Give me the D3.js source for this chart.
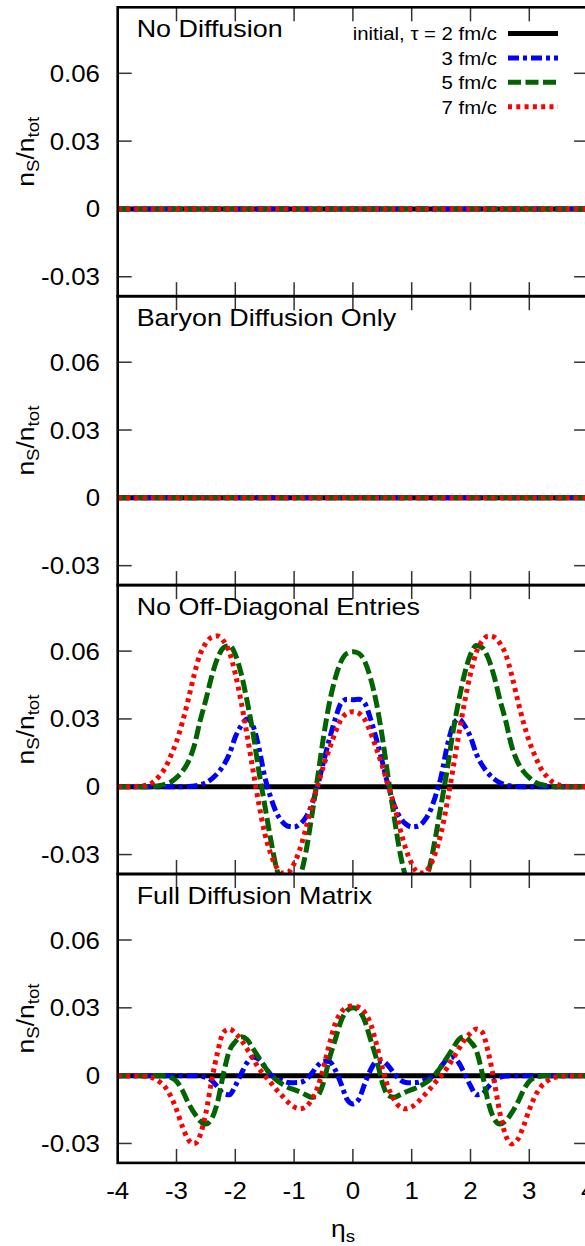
<!DOCTYPE html>
<html><head><meta charset="utf-8">
<script src="https://cdn.jsdelivr.net/npm/d3@7"></script>
<style>body{margin:0;background:#fff;overflow:hidden} svg{display:block}</style>
</head><body><svg id="c" width="585" height="1246"></svg>
<script>
// ---------- data ----------
const eta = [-4.0,-3.9,-3.8,-3.7,-3.6,-3.5,-3.4,-3.3,-3.2,-3.1,-3.0,-2.9,-2.8,-2.7,-2.6,-2.5,-2.4,-2.3,-2.2,-2.1,-2.0,-1.9,-1.8,-1.7,-1.6,-1.5,-1.4,-1.3,-1.2,-1.1,-1.0,-0.9,-0.8,-0.7,-0.6,-0.5,-0.4,-0.3,-0.2,-0.1,0.0,0.1,0.2,0.3,0.4,0.5,0.6,0.7,0.8,0.9,1.0,1.1,1.2,1.3,1.4,1.5,1.6,1.7,1.8,1.9,2.0,2.1,2.2,2.3,2.4,2.5,2.6,2.7,2.8,2.9,3.0,3.1,3.2,3.3,3.4,3.5,3.6,3.7,3.8,3.9,4.0];

const flat = [0,0,0,0,0,0,0,0,0,0,0,0,0,0,0,0,0,0,0,0,0,0,0,0,0,0,0,0,0,0,0,0,0,0,0,0,0,0,0,0,0,0,0,0,0,0,0,0,0,0,0,0,0,0,0,0,0,0,0,0,0,0,0,0,0,0,0,0,0,0,0,0,0,0,0,0,0,0,0,0,0];

// No Off-Diagonal Entries
const noOff_tau3 = [0,0,0,0,0,0,0,0,0,0,0,0,0.0001,0.0003,0.0008,0.0018,0.0035,0.0060,0.0095,0.0145,0.0220,0.0270,0.0300,0.0270,0.0175,0.0045,-0.0045,-0.0115,-0.0155,-0.0175,-0.0178,-0.0165,-0.0135,-0.0080,0.0005,0.0110,0.0210,0.0300,0.0370,0.0387,0.0385,0.0387,0.0370,0.0300,0.0210,0.0110,0.0005,-0.0080,-0.0135,-0.0165,-0.0178,-0.0175,-0.0155,-0.0115,-0.0045,0.0045,0.0175,0.0270,0.0300,0.0270,0.0220,0.0145,0.0095,0.0060,0.0035,0.0018,0.0008,0.0003,0.0001,0,0,0,0,0,0,0,0,0,0,0,0];
const noOff_tau5 = [0,0,0,0,0,0,0.0002,0.0004,0.0010,0.0020,0.0040,0.0068,0.0110,0.0180,0.0290,0.0385,0.0490,0.0570,0.0615,0.0625,0.0585,0.0500,0.0380,0.0240,0.0070,-0.0080,-0.0230,-0.0360,-0.0430,-0.0460,-0.0455,-0.0400,-0.0290,-0.0130,0.0040,0.0220,0.0370,0.0480,0.0555,0.0590,0.0597,0.0590,0.0555,0.0480,0.0370,0.0220,0.0040,-0.0130,-0.0290,-0.0400,-0.0455,-0.0460,-0.0430,-0.0360,-0.0230,-0.0080,0.0070,0.0240,0.0380,0.0500,0.0585,0.0625,0.0615,0.0570,0.0490,0.0385,0.0290,0.0180,0.0110,0.0068,0.0040,0.0020,0.0010,0.0004,0.0002,0,0,0,0,0,0];
const noOff_tau7 = [0,0,0,0.0001,0.0003,0.0008,0.0020,0.0045,0.0080,0.0135,0.0200,0.0285,0.0385,0.0495,0.0585,0.0635,0.0662,0.0667,0.0645,0.0595,0.0500,0.0375,0.0230,0.0075,-0.0075,-0.0205,-0.0295,-0.0355,-0.0382,-0.0378,-0.0340,-0.0275,-0.0185,-0.0080,0.0005,0.0092,0.0168,0.0240,0.0298,0.0325,0.0332,0.0325,0.0298,0.0240,0.0168,0.0092,0.0005,-0.0080,-0.0185,-0.0275,-0.0340,-0.0378,-0.0382,-0.0355,-0.0295,-0.0205,-0.0075,0.0075,0.0230,0.0375,0.0500,0.0595,0.0645,0.0667,0.0662,0.0635,0.0585,0.0495,0.0385,0.0285,0.0200,0.0135,0.0080,0.0045,0.0020,0.0008,0.0003,0.0001,0,0,0];

// Full Diffusion Matrix
const full_tau3 = [0,0,0,0,0,0,0,0,0,0,0,0,0,0,-0.0002,-0.0008,-0.0022,-0.0050,-0.0080,-0.0085,-0.0045,0.0008,0.0057,0.0082,0.0072,0.0040,0.0005,-0.0012,-0.0022,-0.0030,-0.0031,-0.0030,-0.0018,0.0010,0.0044,0.0064,0.0062,0.0025,-0.0037,-0.0105,-0.0125,-0.0105,-0.0037,0.0025,0.0062,0.0064,0.0044,0.0010,-0.0018,-0.0030,-0.0031,-0.0030,-0.0022,-0.0012,0.0005,0.0040,0.0072,0.0082,0.0057,0.0008,-0.0045,-0.0085,-0.0080,-0.0050,-0.0022,-0.0008,-0.0002,0,0,0,0,0,0,0,0,0,0,0,0,0,0];
const full_tau5 = [0,0,0,0,0,0,0,0,-0.0002,-0.0008,-0.0025,-0.0065,-0.0120,-0.0165,-0.0200,-0.0214,-0.0190,-0.0115,0.0010,0.0110,0.0150,0.0172,0.0160,0.0120,0.0080,0.0040,0.0005,-0.0020,-0.0038,-0.0052,-0.0062,-0.0072,-0.0085,-0.0096,-0.0088,-0.0030,0.0075,0.0160,0.0243,0.0288,0.0300,0.0288,0.0243,0.0160,0.0075,-0.0030,-0.0088,-0.0096,-0.0085,-0.0072,-0.0062,-0.0052,-0.0038,-0.0020,0.0005,0.0040,0.0080,0.0120,0.0160,0.0172,0.0150,0.0110,0.0010,-0.0115,-0.0190,-0.0214,-0.0200,-0.0165,-0.0120,-0.0065,-0.0025,-0.0008,-0.0002,0,0,0,0,0,0,0,0];
const full_tau7 = [0,0,0,0,-0.0001,-0.0004,-0.0010,-0.0025,-0.0048,-0.0090,-0.0150,-0.0225,-0.0283,-0.0302,-0.0265,-0.0165,-0.0020,0.0105,0.0192,0.0206,0.0188,0.0158,0.0118,0.0075,0.0033,0.0000,-0.0030,-0.0062,-0.0090,-0.0118,-0.0138,-0.0147,-0.0138,-0.0105,-0.0052,0.0035,0.0140,0.0230,0.0280,0.0302,0.0308,0.0302,0.0280,0.0230,0.0140,0.0035,-0.0052,-0.0105,-0.0138,-0.0147,-0.0138,-0.0118,-0.0090,-0.0062,-0.0030,0.0000,0.0033,0.0075,0.0118,0.0158,0.0188,0.0206,0.0192,0.0105,-0.0020,-0.0165,-0.0265,-0.0302,-0.0283,-0.0225,-0.0150,-0.0090,-0.0048,-0.0025,-0.0010,-0.0004,-0.0001,0,0,0,0];

const panelTitles = ["No Diffusion", "Baryon Diffusion Only", "No Off-Diagonal Entries", "Full Diffusion Matrix"];
const seriesLabels = ["initial, \u03C4 = 2 fm/c", "3 fm/c", "5 fm/c", "7 fm/c"];
const panelSeries = [
  [flat, flat, flat, flat],
  [flat, flat, flat, flat],
  [flat, noOff_tau3, noOff_tau5, noOff_tau7],
  [flat, full_tau3, full_tau5, full_tau7]
];
const xTicks = [-4, -3, -2, -1, 0, 1, 2, 3, 4];
const xTickLabels = ["-4", "-3", "-2", "-1", "0", "1", "2", "3", "4"];
const yTicks = [-0.03, 0, 0.03, 0.06];
const yTickLabels = ["-0.03", "0", "0.03", "0.06"];

// ---------- styles / layout ----------
const styles = [
  {color: "#000000", dash: null, width: 5},
  {color: "#0000ff", dash: "11,4,4,4", width: 5},
  {color: "#006400", dash: "13,4.5", width: 5},
  {color: "#ff0000", dash: "4,4.3", width: 5}
];
const L = 117.7, R = 588.1, TOP0 = 7.3, PH = 288.9;
const FONT = "'Liberation Sans', Arial, Helvetica, sans-serif";
const SX = 1.1;

const svg = d3.select("#c");
const x = d3.scaleLinear().domain([-4, 4]).range([L, R]);

function txt(parent, px, py, str, size, anchor, sx) {
  return parent.append("text")
    .attr("transform", `translate(${px},${py}) scale(${sx || SX},1)`)
    .attr("text-anchor", anchor || "start")
    .attr("font-family", FONT)
    .attr("font-size", size)
    .attr("fill", "#000")
    .text(str);
}

const defs = svg.append("defs");

panelSeries.forEach((series, pi) => {
  const top = TOP0 + pi * PH, bot = top + PH;
  const y = d3.scaleLinear().domain([-0.0386, 0.0892]).range([bot, top]);
  const g = svg.append("g");

  defs.append("clipPath").attr("id", "clip" + pi)
    .append("rect").attr("x", L).attr("y", top).attr("width", R - L).attr("height", PH);

  // ticks (inward, all four sides)
  const tg = g.append("g").attr("stroke", "#333").attr("stroke-width", 1.5);
  xTicks.forEach(t => {
    tg.append("line").attr("x1", x(t)).attr("x2", x(t)).attr("y1", bot).attr("y2", bot - 14);
    tg.append("line").attr("x1", x(t)).attr("x2", x(t)).attr("y1", top).attr("y2", top + 14);
  });
  yTicks.forEach(t => {
    tg.append("line").attr("x1", L).attr("x2", L + 14).attr("y1", y(t)).attr("y2", y(t));
    tg.append("line").attr("x1", R).attr("x2", R - 14).attr("y1", y(t)).attr("y2", y(t));
  });

  // curves
  const line = d3.line().x((d, i) => x(eta[i])).y(d => y(d)).curve(d3.curveMonotoneX);
  const cg = g.append("g").attr("clip-path", `url(#clip${pi})`);
  series.forEach((vals, si) => {
    const st = styles[si];
    cg.append("path").datum(vals)
      .attr("d", line)
      .attr("fill", "none")
      .attr("stroke", st.color)
      .attr("stroke-width", st.width)
      .attr("stroke-dasharray", st.dash)
      .attr("stroke-linecap", "butt");
  });

  // frame
  g.append("rect").attr("x", L).attr("y", top).attr("width", R - L).attr("height", PH)
    .attr("fill", "none").attr("stroke", "#000").attr("stroke-width", 2.6);

  // y tick labels
  yTicks.forEach((t, i) => txt(g, 100, y(t) + 8.5, yTickLabels[i], 23.5, "end"));

  // y axis title
  const yl = g.append("text")
    .attr("transform", `translate(33.5,${(top + bot) / 2}) rotate(-90) scale(${SX},1)`)
    .attr("text-anchor", "middle").attr("font-family", FONT).attr("font-size", 24);
  yl.append("tspan").text("n");
  yl.append("tspan").attr("font-size", 17).attr("dy", 5).text("S");
  yl.append("tspan").attr("dy", -5).text("/n");
  yl.append("tspan").attr("font-size", 17).attr("dy", 5).text("tot");

  // panel title
  txt(g, 136.7, top + 30, panelTitles[pi], 23.8, "start", 1.13);
});

// x tick labels
xTicks.forEach((t, i) => txt(svg, x(t), 1199.3, xTickLabels[i], 23.5, "middle"));

// x axis title
const xl = svg.append("text")
  .attr("transform", `translate(331,1237) scale(${SX},1)`)
  .attr("font-family", FONT).attr("font-size", 24);
xl.append("tspan").text("\u03B7");
xl.append("tspan").attr("font-size", 17).attr("dy", 5).text("s");

// legend
const lg = svg.append("g");
seriesLabels.forEach((lab, i) => {
  const by = 40.3 + i * 24.4;
  txt(lg, 497, by, lab, 18.5, "end");
  const st = styles[i];
  lg.append("line").attr("x1", 508).attr("x2", 558).attr("y1", by - 6.8).attr("y2", by - 6.8)
    .attr("stroke", st.color).attr("stroke-width", st.width)
    .attr("stroke-dasharray", st.dash).attr("stroke-linecap", "butt");
});
</script>
</body></html>
